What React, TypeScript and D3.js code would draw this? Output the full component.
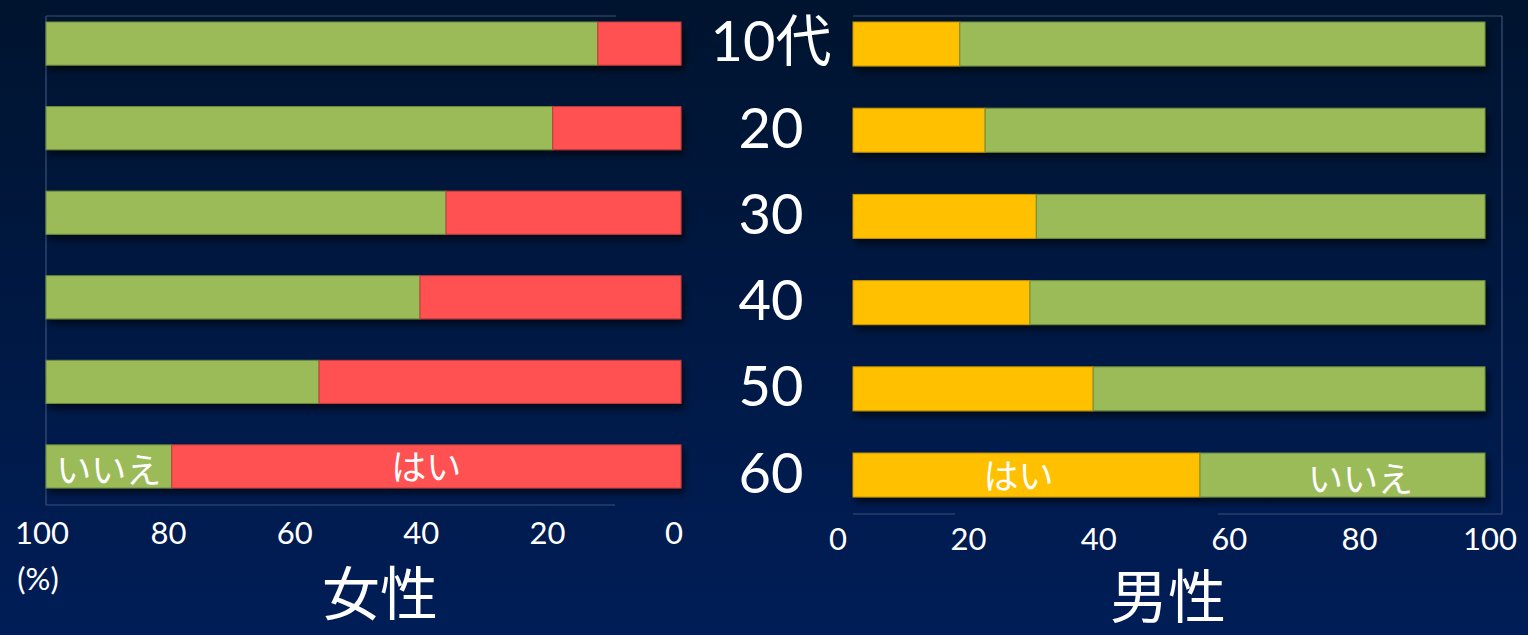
import React from 'react';
import * as d3 from 'd3';

// 年代別「はい / いいえ」の割合 (%)
const ages = ['10代', '20', '30', '40', '50', '60'];
const femaleYes = [13.1, 20.2, 37.0, 41.1, 57.0, 80.2];
const maleYes = [16.9, 20.9, 29.0, 28.0, 38.0, 54.9];
const tickValues = [0, 20, 40, 60, 80, 100];
const yesLabel = 'はい';
const noLabel = 'いいえ';
const femaleTitle = '女性';
const maleTitle = '男性';

const W = 1528;
const H = 635;
const GREEN = '#9BBB59';
const RED = '#FF5151';
const YELLOW = '#FFC000';
const FRAME = '#3d5078';
const numFont = 'Lato, "Noto Sans CJK JP", sans-serif';
const jpFont = '"Noto Sans CJK JP", sans-serif';

export default function App() {
	// bar scales
	const xLeft = d3.scaleLinear().domain([100, 0]).range([46, 681]);
	const xRight = d3.scaleLinear().domain([0, 100]).range([853, 1485]);
	const yLeft = d3.scaleBand().domain(ages).range([22, 488]).paddingInner(0.49).paddingOuter(0);
	const yRight = d3.scaleBand().domain(ages).range([22, 497]).paddingInner(0.49).paddingOuter(0);
	// tick label scales (labels sit a little off the bar ends in the original)
	const tLeft = d3.scaleLinear().domain([100, 0]).range([42, 674]);
	const tRight = d3.scaleLinear().domain([0, 100]).range([838, 1490]);

	const last = ages[ages.length - 1];

	return (
		<svg width={W} height={H} style={{ position: 'absolute', left: 0, top: 0, display: 'block' }}>
			<defs>
				<linearGradient id="bg" x1="0" y1="0" x2="0" y2="1">
					<stop offset="0" stopColor="#00142f" />
					<stop offset="1" stopColor="#001d57" />
				</linearGradient>
				<filter id="shadow" x="-5%" y="-30%" width="110%" height="180%">
					<feDropShadow dx="3" dy="5" stdDeviation="3.5" floodColor="#000" floodOpacity="0.6" />
				</filter>
			</defs>
			<rect x={0} y={0} width={W} height={H} fill="url(#bg)" />

			{/* frames */}
			<g stroke={FRAME} strokeWidth={1.2} fill="none">
				<line x1={46} y1={16} x2={616} y2={16} />
				<line x1={46} y1={16} x2={46} y2={505} />
				<line x1={46} y1={505} x2={615} y2={505} />
				<line x1={853} y1={16} x2={1502} y2={16} />
				<line x1={1502} y1={16} x2={1502} y2={514} />
				<line x1={853} y1={514} x2={955} y2={514} />
				<line x1={1218} y1={514} x2={1502} y2={514} />
			</g>

			{/* female bars */}
			{ages.map((a, i) => (
				<g key={'f' + a} filter="url(#shadow)">
					<rect
						x={xLeft(100)}
						y={yLeft(a)}
						width={xLeft(femaleYes[i]) - xLeft(100)}
						height={yLeft.bandwidth()}
						fill={GREEN}
						stroke="#6f8c3c"
						strokeWidth={1}
					/>
					<rect
						x={xLeft(femaleYes[i])}
						y={yLeft(a)}
						width={xLeft(0) - xLeft(femaleYes[i])}
						height={yLeft.bandwidth()}
						fill={RED}
						stroke="#c23c3c"
						strokeWidth={1}
					/>
				</g>
			))}

			{/* male bars */}
			{ages.map((a, i) => (
				<g key={'m' + a} filter="url(#shadow)">
					<rect
						x={xRight(0)}
						y={yRight(a)}
						width={xRight(maleYes[i]) - xRight(0)}
						height={yRight.bandwidth()}
						fill={YELLOW}
						stroke="#c79500"
						strokeWidth={1}
					/>
					<rect
						x={xRight(maleYes[i])}
						y={yRight(a)}
						width={xRight(100) - xRight(maleYes[i])}
						height={yRight.bandwidth()}
						fill={GREEN}
						stroke="#6f8c3c"
						strokeWidth={1}
					/>
				</g>
			))}

			{/* in-bar labels on the last row */}
			<g fill="#fff" fontFamily={jpFont} fontSize={35} textAnchor="middle" dominantBaseline="central">
				<text x={(xLeft(100) + xLeft(femaleYes[5])) / 2} y={yLeft(last) + yLeft.bandwidth() / 2 + 1}>
					{noLabel}
				</text>
				<text x={(xLeft(femaleYes[5]) + xLeft(0)) / 2} y={yLeft(last) + yLeft.bandwidth() / 2 - 2}>
					{yesLabel}
				</text>
				<text x={(xRight(0) + xRight(maleYes[5])) / 2 - 8} y={yRight(last) + yRight.bandwidth() / 2 - 2}>
					{yesLabel}
				</text>
				<text x={(xRight(maleYes[5]) + xRight(100)) / 2 + 18} y={yRight(last) + yRight.bandwidth() / 2 + 1}>
					{noLabel}
				</text>
			</g>

			{/* age labels */}
			<g fill="#fff" fontFamily={numFont} fontSize={56} textAnchor="middle" dominantBaseline="central">
				{ages.map(a => (
					<text key={'a' + a} x={771} y={yRight(a) + yRight.bandwidth() / 2 - 4}>
						{a}
					</text>
				))}
			</g>

			{/* tick labels */}
			<g fill="#fff" fontFamily={numFont} fontSize={31} textAnchor="middle" dominantBaseline="central">
				{tickValues.map(v => (
					<text key={'tl' + v} x={tLeft(v)} y={532}>
						{v}
					</text>
				))}
				{tickValues.map(v => (
					<text key={'tr' + v} x={tRight(v)} y={538}>
						{v}
					</text>
				))}
				<text x={38} y={578}>
					(%)
				</text>
			</g>

			{/* panel titles */}
			<g fill="#fff" fontFamily={jpFont} fontSize={58} textAnchor="middle" dominantBaseline="central">
				<text x={380} y={590}>
					{femaleTitle}
				</text>
				<text x={1168} y={593}>
					{maleTitle}
				</text>
			</g>
		</svg>
	);
}
